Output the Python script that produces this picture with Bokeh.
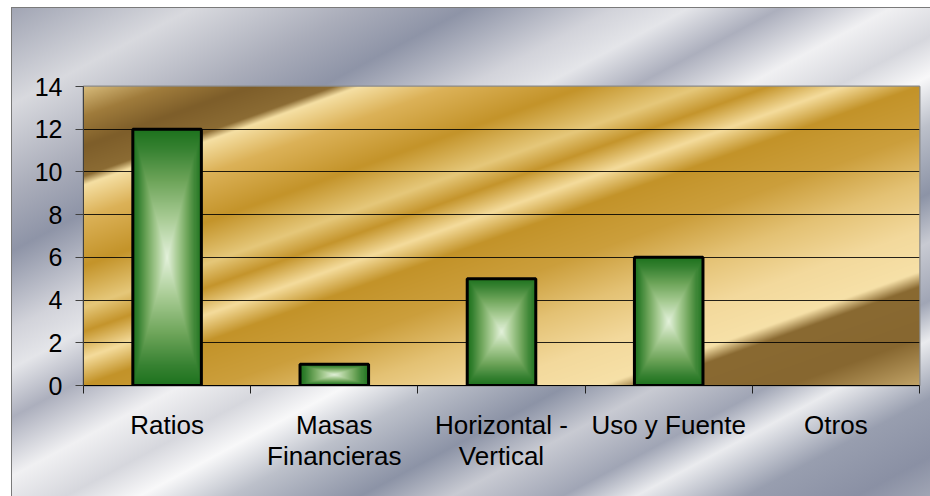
import numpy as np
from bokeh.plotting import figure
from bokeh.models import FixedTicker, LinearAxis, Range1d, Grid
from bokeh.embed import file_html
from bokeh.resources import INLINE

# ---------------- data ----------------
categories = ["Ratios", "Masas\nFinancieras", "Horizontal -\nVertical", "Uso y Fuente", "Otros"]
values = [12, 1, 5, 6, 0]
y_ticks = [0, 2, 4, 6, 8, 10, 12, 14]

# ---------------- styling helpers ----------------
N = len(categories)
YMAX = y_ticks[-1]
xs = [i + 0.5 for i in range(N)]
BAR_W = 0.41
FONT = "Liberation Sans"

# gold plot-area gradient stops (t: 0 = top-left corner, 1 = bottom-right corner)
gold_pos = [0.00, 0.05, 0.10, 0.15, 0.165, 0.22, 0.30, 0.37, 0.41, 0.455, 0.50, 0.58, 0.66, 0.74, 0.81, 0.835, 0.92, 1.00]
gold_col = ["#d8bc7c", "#a07c3c", "#7e5e2a", "#8c6c34", "#f6e0a4", "#dcb258", "#c4942a", "#e6c87a",
            "#c5952c", "#f5dc9c", "#c39329", "#cc9f3c", "#e4c274", "#f3d99c", "#f7e1a8", "#8a6a32",
            "#876730", "#c2a468"]

# silver chart-area gradient stops
silver_pos = [0, 10, 19, 25, 33, 37, 42, 48, 53, 57, 62, 69, 74, 80, 84, 90, 96, 100]
silver_col = ["#a0a4b3", "#d8d9de", "#aaadba", "#8e94a7", "#d2d3da", "#e4e5e9", "#acafbd", "#f0f0f2",
              "#d6d7dd", "#f8f8f9", "#bcc0ca", "#8c93a6", "#c8cad2", "#a0a5b5", "#eaebee", "#989eaf",
              "#8a90a4", "#a0a5b4"]

# green bar gradient (rectangular, from centre): 0 = centre, 1 = edge
green_pos = [0.0, 0.3, 0.6, 0.85, 1.0]
green_col = ["#e4f2dc", "#aacd96", "#6ea55a", "#378232", "#1e731e"]


def hex2rgb(h):
    h = h.lstrip("#")
    return [int(h[i:i + 2], 16) for i in (0, 2, 4)]


def colorize(t, pos, cols):
    rgb = np.array([hex2rgb(c) for c in cols], dtype=float)
    h, w = t.shape
    img = np.empty((h, w), dtype=np.uint32)
    view = img.view(dtype=np.uint8).reshape((h, w, 4))
    for k in range(3):
        view[:, :, k] = np.clip(np.interp(t, pos, rgb[:, k]), 0, 255).astype(np.uint8)
    view[:, :, 3] = 255
    return img


# ---------------- figure ----------------
FRAME_L, FRAME_T, FRAME_R, FRAME_B = 83, 86, 919, 385
W, H = 930, 496

silver_stops = ", ".join(f"{c} {p}%" for c, p in zip(silver_col, silver_pos))
bg = (
    "linear-gradient(#7a7a7a,#7a7a7a) 11px 7px / 919px 1px no-repeat, "
    "linear-gradient(#7a7a7a,#7a7a7a) 11px 7px / 1px 489px no-repeat, "
    f"linear-gradient(to bottom right, {silver_stops}) 11px 7px / 919px 489px no-repeat, "
    "#ffffff"
)

p = figure(
    width=W, height=H,
    x_range=Range1d(0, N), y_range=Range1d(0, YMAX),
    x_axis_type=None, y_axis_type=None,
    output_backend="svg", toolbar_location=None,
    min_border_left=FRAME_L, min_border_right=W - FRAME_R,
    min_border_top=FRAME_T, min_border_bottom=H - FRAME_B,
)
p.styles = {"background": bg}
p.border_fill_color = None
p.background_fill_color = None
p.outline_line_color = "#8a8a8a"
p.outline_line_width = 2

# gold plot-area background image
gh, gw = FRAME_B - FRAME_T, FRAME_R - FRAME_L
rows = np.arange(gh)[:, None]
cols = np.arange(gw)[None, :]
v_top = 1.0 - (rows + 0.5) / gh
u = (cols + 0.5) / gw
t_gold = (u + v_top) / 2.0
gold_img = colorize(np.broadcast_to(t_gold, (gh, gw)), gold_pos, gold_col)
r_gold = p.image_rgba(image=[gold_img], x=0, y=0, dw=N, dh=YMAX)
r_gold.level = "image"

# horizontal grid
p.add_layout(Grid(dimension=1, ticker=FixedTicker(ticks=y_ticks[1:-1]),
                  grid_line_color="black", grid_line_width=1, grid_line_alpha=0.85))

# bars: gradient fill images + outlines
px_per_unit = gh / YMAX
bx, btop = [], []
for x, v in zip(xs, values):
    if v <= 0:
        continue
    bh = max(2, int(round(v * px_per_unit)))
    bw = 68
    uu = np.abs(np.linspace(-1, 1, bw))[None, :]
    vv = np.abs(np.linspace(-1, 1, bh))[:, None]
    t_bar = np.maximum(uu, vv)
    img = colorize(t_bar, green_pos, green_col)
    p.image_rgba(image=[img], x=x - BAR_W / 2, y=0, dw=BAR_W, dh=v)
    bx.append(x)
    btop.append(v)

p.vbar(x=bx, top=btop, bottom=0, width=BAR_W, fill_color=None,
       line_color="black", line_width=3)

# axes
yaxis = LinearAxis(
    ticker=FixedTicker(ticks=y_ticks),
    major_tick_out=8, major_tick_in=0,
    minor_tick_line_color=None,
    axis_line_color="#404040", major_tick_line_color="#404040",
    major_label_text_font=FONT, major_label_text_font_size="25px",
    major_label_text_color="black", major_label_standoff=13,
)
p.add_layout(yaxis, "left")

xaxis = LinearAxis(
    ticker=FixedTicker(ticks=xs, minor_ticks=list(range(N + 1))),
    major_tick_out=0, major_tick_in=0,
    minor_tick_out=8, minor_tick_in=0,
    major_tick_line_color=None,
    minor_tick_line_color="#202020",
    axis_line_color="black",
    major_label_overrides={x: c for x, c in zip(xs, categories)},
    major_label_text_font=FONT, major_label_text_font_size="26px",
    major_label_text_color="black", major_label_standoff=16,
    major_label_text_line_height=1.05,
)
p.add_layout(xaxis, "below")

open("out.html", "w").write(file_html(p, INLINE))
